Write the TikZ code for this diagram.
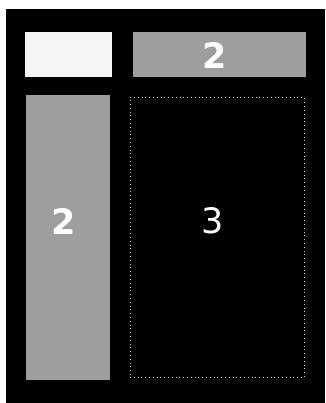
\documentclass[tikz,border=0pt]{standalone}
\usepackage{fontspec}
\setmainfont{DejaVu Sans}
\usepackage{xcolor}
\usetikzlibrary{positioning}

\definecolor{panelgray}{gray}{0.62}
\definecolor{panelwhite}{gray}{0.96}

\begin{document}
\begin{tikzpicture}[x=1pt, y=-1pt,
    panel/.style={rectangle, inner sep=0pt, draw=none},
    emptypanel/.style={rectangle, inner sep=0pt, draw=gray!40, dash pattern=on 0.8pt off 3pt, line width=0.6pt, fill=black},
    num/.style={text=white, font=\fontsize{35}{35}\selectfont, inner sep=0pt}
]
    \useasboundingbox (0,0) rectangle (325,403);
    \fill[white] (0,0) rectangle (325,403);
    \fill[black] (6,9) rectangle (325,403);

    \node[panel, fill=panelwhite, minimum width=87pt, minimum height=45pt] (corner) at (68.5, 54.5) {};
    \node[panel, fill=panelgray, minimum width=173pt, minimum height=45pt] (header) at (219.5, 54.5) {};
    \node[panel, fill=panelgray, minimum width=84pt, minimum height=285pt] (sidebar) at (68, 237.5) {};
    \node[emptypanel, minimum width=174pt, minimum height=280pt] (content) at (217, 237.5) {};

    % numbers
    \node[num, font=\fontsize{35}{35}\selectfont\bfseries] (headernum)  at (215, 56)  {2};
    \node[num, font=\fontsize{35}{35}\selectfont\bfseries] (sidebarnum) at (64, 222)  {2};
    \node[num] (contentnum) at (213, 221) {3};
\end{tikzpicture}
\end{document}
